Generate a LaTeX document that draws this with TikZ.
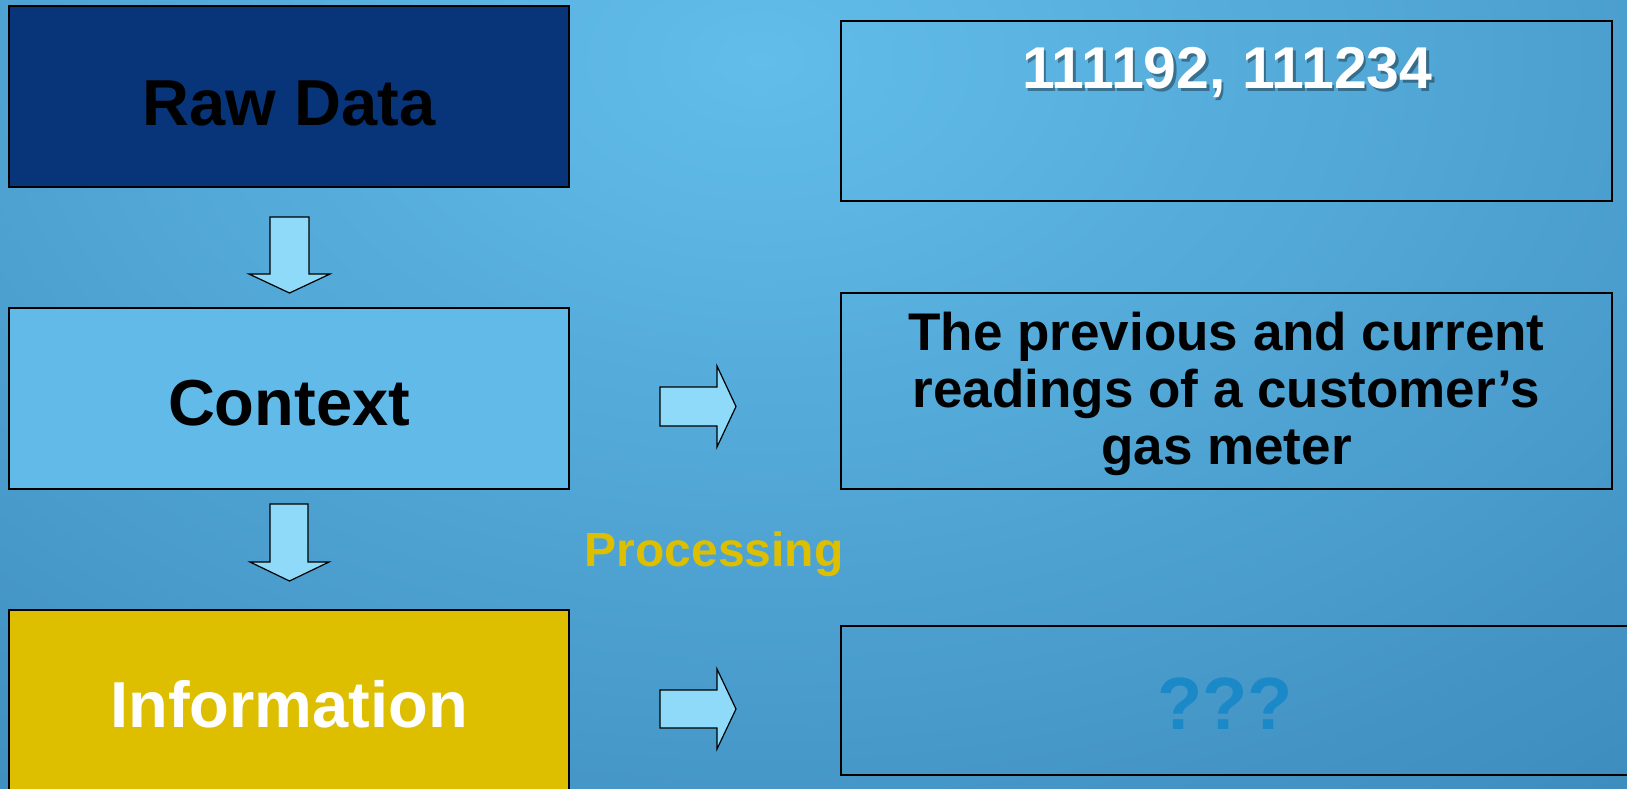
\documentclass[tikz,border=0pt]{standalone}
\usepackage{fontspec}
\setmainfont{Liberation Sans}
\usetikzlibrary{positioning}
\definecolor{bglight}{HTML}{62BDEA}
\definecolor{bgdark}{HTML}{2B74A8}
\definecolor{navy}{HTML}{083579}
\definecolor{sky}{HTML}{62BAE8}
\definecolor{gold}{HTML}{DDBF00}
\definecolor{arrowfill}{HTML}{8FD9F9}
\definecolor{qblue}{HTML}{1B88C8}
\tikzset{
  bigbox/.style={draw=black, line width=1.5pt, minimum width=560pt, minimum height=181pt, inner sep=0pt},
  bigtext/.style={font=\bfseries\fontsize{65}{70}\selectfont},
  rightbox/.style={draw=black, line width=1.5pt, inner sep=0pt},
  blockarrow/.style={draw=black, line width=1.2pt, fill=arrowfill, line join=miter},
}
\begin{document}
\begin{tikzpicture}[x=1pt,y=-1pt]
\useasboundingbox (0,0) rectangle (1627,788);
\begin{scope}
\clip (0,0) rectangle (1627,788);
\fill[bgdark] (0,0) rectangle (1627,788);
\shade[inner color=bglight, outer color=bgdark] (760,60) ellipse [x radius=2100, y radius=1400];
\end{scope}
% left column
\node[bigbox, fill=navy] (raw) at (289,96.5) {};
\node[bigbox, fill=sky] (ctx) at (289,398.5) {};
\node[bigbox, fill=gold] (info) at (289,700.5) {};
\node[bigtext, text=black] (rawt) at (289,103) {Raw Data};
\node[bigtext, text=black] (ctxt) at (289,403) {Context};
\node[bigtext, text=white] (infot) at (289,704) {Information};
% down arrows
\draw[blockarrow] (270,217) -- (309,217) -- (309,274) -- (330,274) -- (289.5,293) -- (249,274) -- (270,274) -- cycle;
\draw[blockarrow] (270,504) -- (308,504) -- (308,562) -- (329,562) -- (289.5,581) -- (250,562) -- (270,562) -- cycle;
% right arrows
\draw[blockarrow] (660,387) -- (717,387) -- (717,366) -- (736,406.5) -- (717,447) -- (717,426) -- (660,426) -- cycle;
\draw[blockarrow] (660,690) -- (717,690) -- (717,669) -- (736,709) -- (717,749) -- (717,728) -- (660,728) -- cycle;
% processing
\node[text=gold, font=\bfseries\fontsize{48}{50}\selectfont] (proc) at (714,554) {Processing};
% right boxes
\node[rightbox, minimum width=771pt, minimum height=180pt] (rbox1) at (1226.5,111) {};
\node[text=black, opacity=0.35, font=\bfseries\fontsize{59}{62}\selectfont] (numsh) at (1230,75) {111192, 111234};
\node[text=white, font=\bfseries\fontsize{59}{62}\selectfont] (nums) at (1227.5,72) {111192, 111234};
\node[rightbox, minimum width=771pt, minimum height=196pt] (rbox2) at (1226.5,391) {};
\node[align=center, font=\bfseries\fontsize{53}{57}\selectfont] (rtext2) at (1226.5,394) {The previous and current\\readings of a customer’s\\gas meter};
\node[rightbox, minimum width=820pt, minimum height=149pt] (rbox3) at (1251,700.5) {};
\node[text=qblue, font=\bfseries\fontsize{74}{80}\selectfont] (qq) at (1225,704) {???};
\end{tikzpicture}
\end{document}
